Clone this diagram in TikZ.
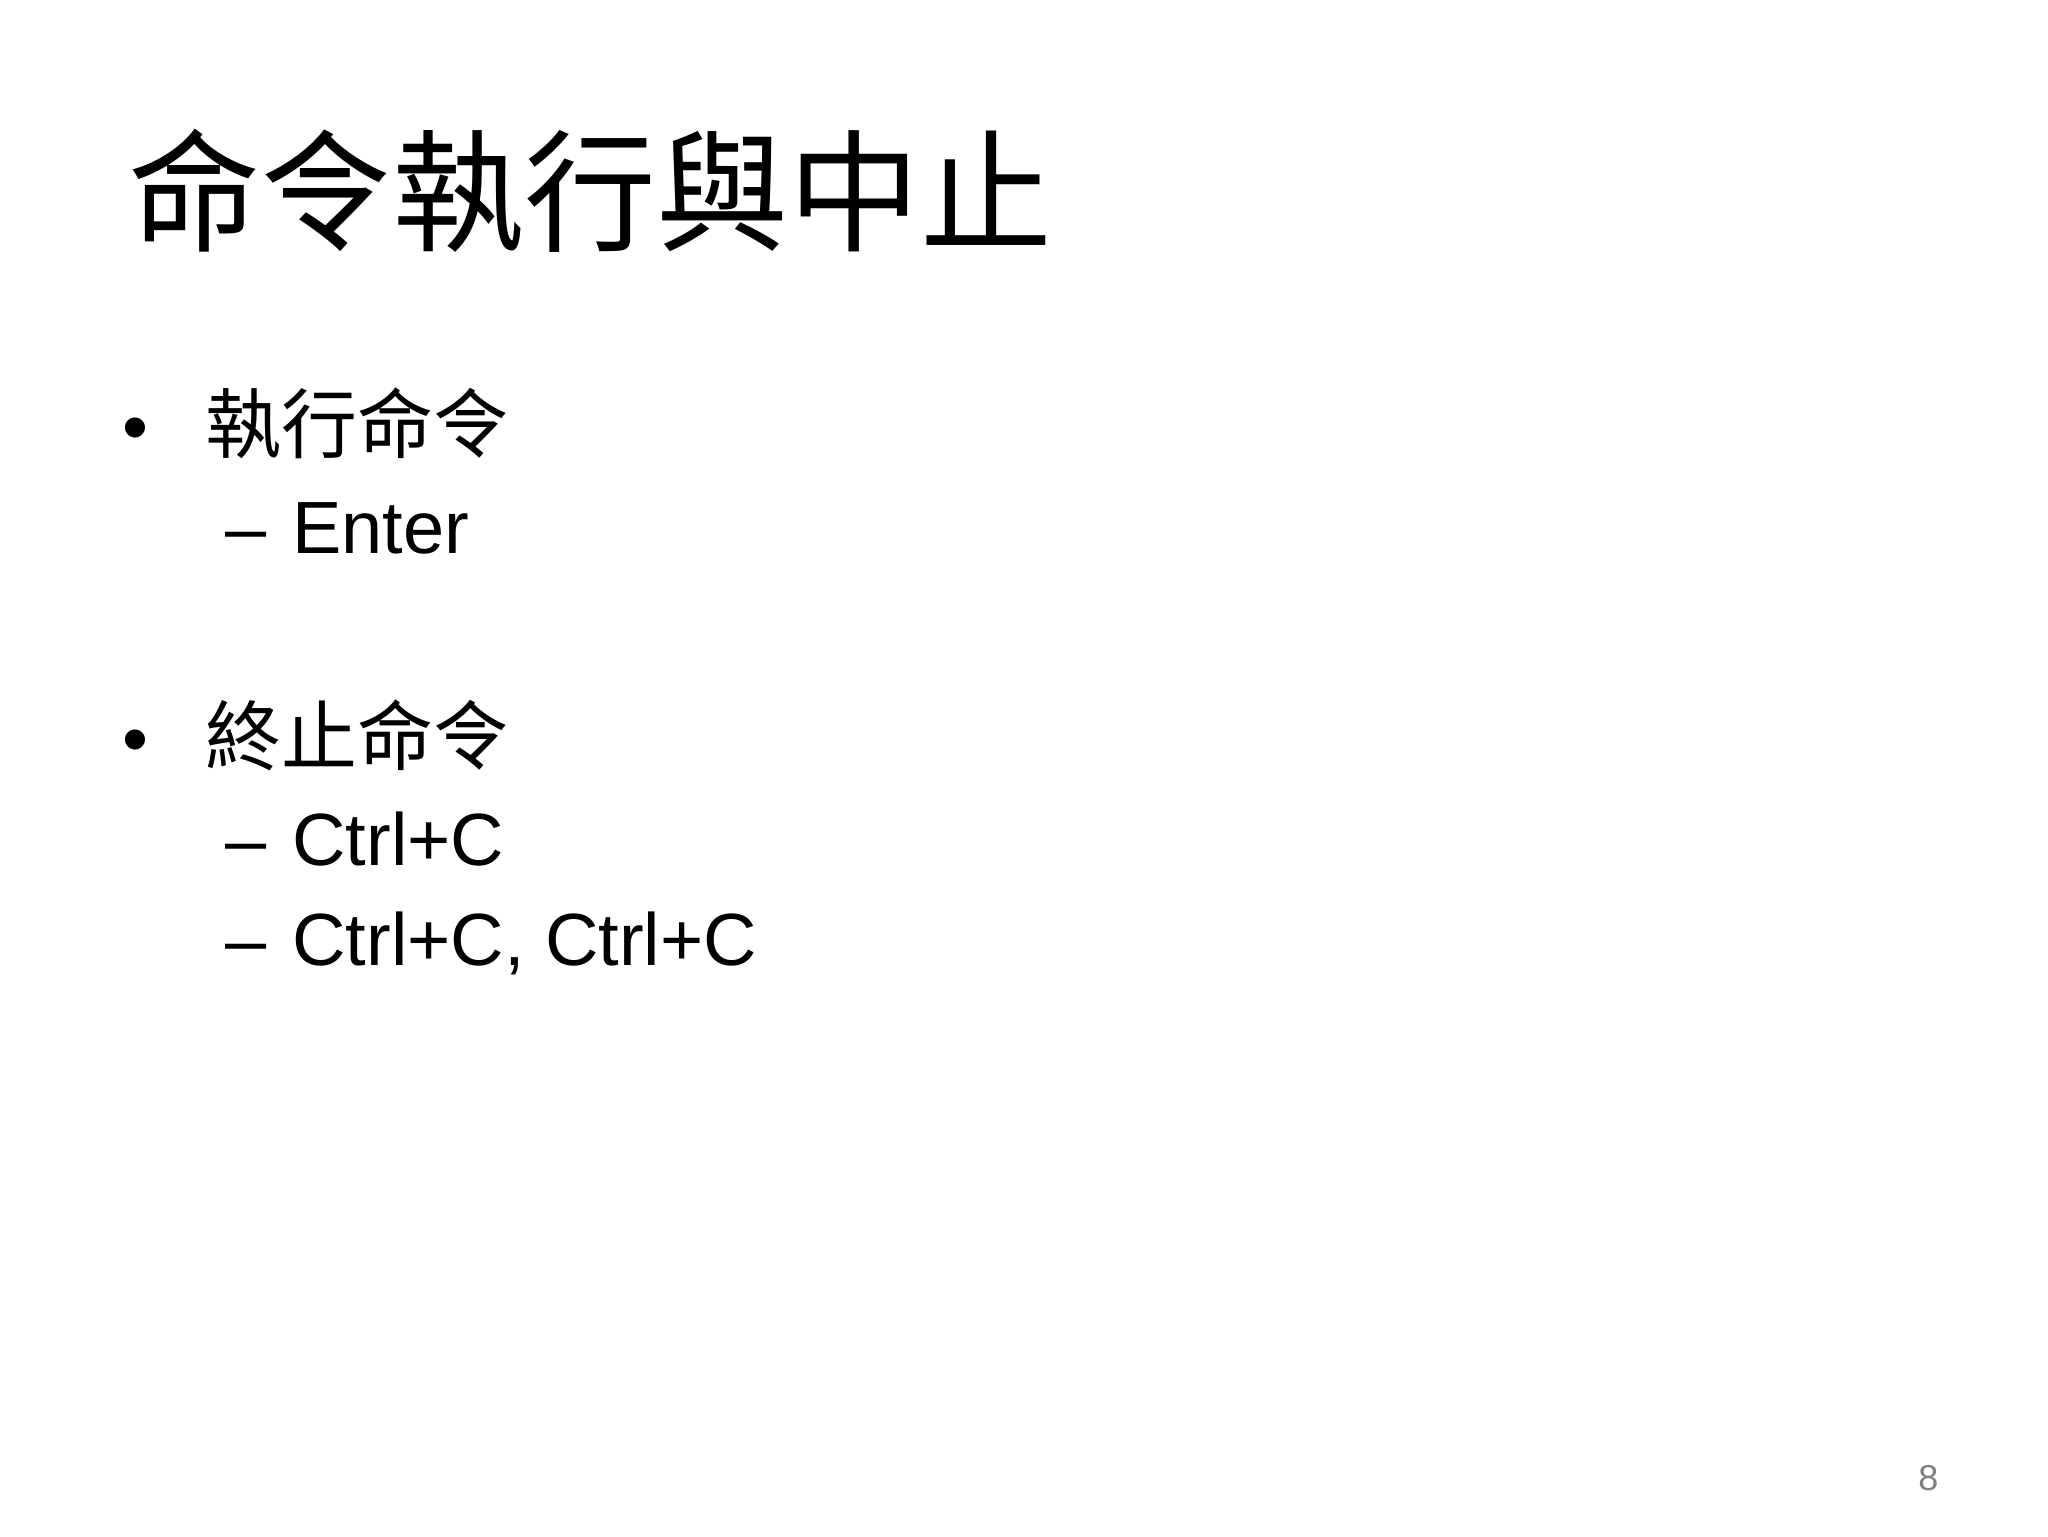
\documentclass[tikz,border=0pt]{standalone}
\usepackage{fontspec}
\setmainfont{Liberation Sans}
\newfontfamily\cjk{Noto Sans CJK TC}
\begin{document}
\begin{tikzpicture}[x=0.5pt,y=-0.5pt,
  txt/.style={anchor=base west,inner sep=0pt,font=\fontsize{37pt}{40pt}\selectfont}]
\useasboundingbox[fill=white] (0,0) rectangle (2048,1536);
\node[anchor=base west,inner sep=0pt,font=\cjk\fontsize{66pt}{70pt}\selectfont] (title) at (128,241) {命令執行與中止};
\node[txt] (b1) at (122,452) {•};
\node[txt,font=\cjk\fontsize{38pt}{40pt}\selectfont] (t1) at (205,452) {執行命令};
\node[txt] (d1) at (225,553) {–};
\node[txt] (s1) at (292,553) {Enter};
\node[txt] (b2) at (122,764) {•};
\node[txt,font=\cjk\fontsize{38pt}{40pt}\selectfont] (t2) at (205,764) {終止命令};
\node[txt] (d2) at (225,865) {–};
\node[txt] (s2) at (292,865) {Ctrl+C};
\node[txt] (d3) at (225,965) {–};
\node[txt] (s3) at (292,965) {Ctrl+C, Ctrl+C};
\node[anchor=base west,inner sep=0pt,text=gray,font=\fontsize{18pt}{20pt}\selectfont] (pg) at (1918,1490) {8};
\end{tikzpicture}
\end{document}
